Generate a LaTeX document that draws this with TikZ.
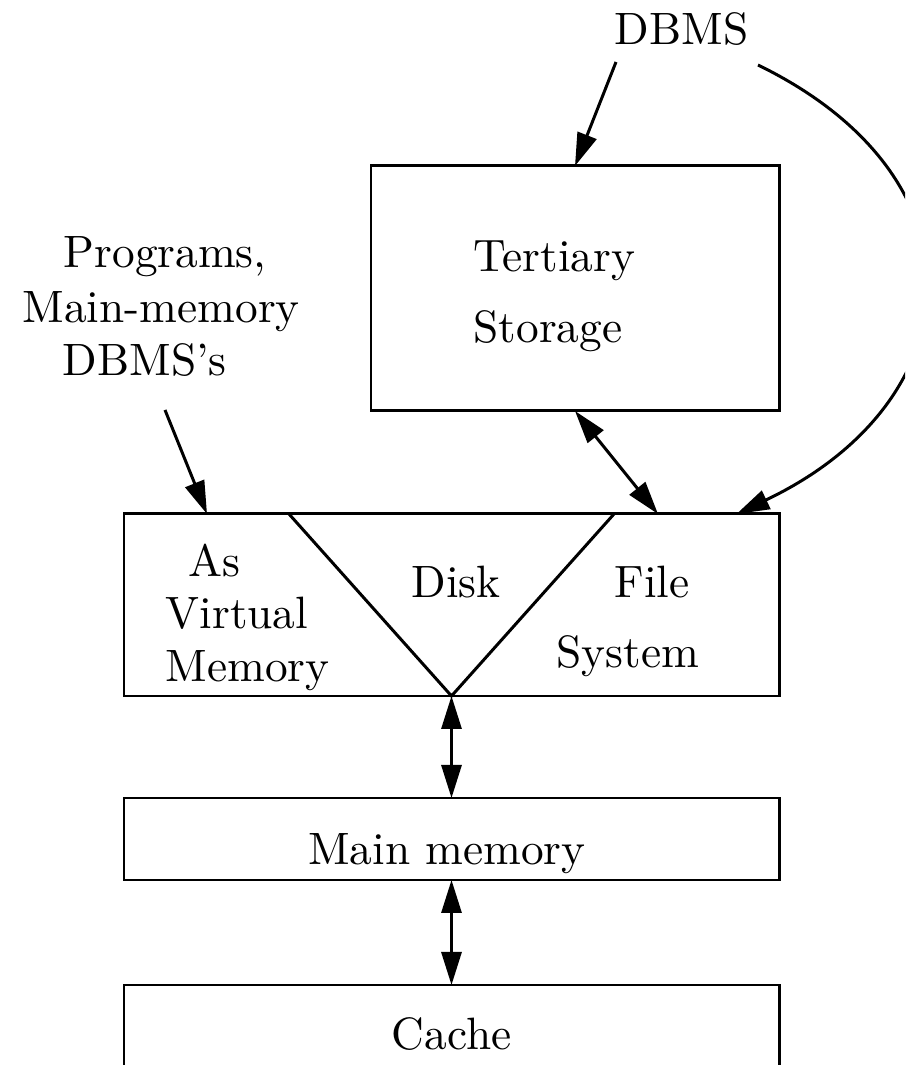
\documentclass[tikz,border=0pt]{standalone}
\usepackage{fontspec}
\newfontfamily\lmzehn{lmroman10-regular.otf}[Ligatures=TeX]
\usetikzlibrary{arrows.meta}
\tikzset{
  kasten/.style={draw,line width=0.85pt,inner sep=0pt,outer sep=0pt},
  pfeil/.style={line width=0.85pt,-{Triangle[length=3.3mm,width=2mm]}},
  doppelpfeil/.style={line width=0.85pt,{Triangle[length=3.3mm,width=2mm]}-{Triangle[length=3.3mm,width=2mm]}},
  schrift/.style={inner sep=0pt,font=\lmzehn\fontsize{12.9pt}{15pt}\selectfont}
}
\begin{document}
\begin{tikzpicture}
\useasboundingbox (0,0) rectangle (9.05,10.65);
\clip (0,0) rectangle (9.05,10.65);
% Koordinaten
\coordinate (dbmslinks) at (6.16,10.03);
\coordinate (dbmsrechts) at (7.58,10.00);
\coordinate (programme) at (1.65,6.55);

% Kaesten
\node[kasten,minimum width=4.08cm,minimum height=2.45cm] (tertiary) at (5.75,7.765) {};
\node[kasten,minimum width=6.55cm,minimum height=1.82cm] (disk) at (4.515,4.60) {};
\node[kasten,minimum width=6.55cm,minimum height=0.82cm] (mainmem) at (4.515,2.26) {};
\node[kasten,minimum width=6.55cm,minimum height=1.30cm] (cache) at (4.515,0.15) {};
\draw[line width=0.85pt] ([xshift=-1.625cm]disk.north) -- (disk.south) -- ([xshift=1.625cm]disk.north);

% Beschriftung
\node[schrift,anchor=base west] (dbms) at (6.14,10.20) {DBMS};
\node[schrift,anchor=base west] (progone) at (0.63,7.97) {Programs,};
\node[schrift,anchor=base west] (progtwo) at (0.22,7.42) {Main-memory};
\node[schrift,anchor=base west] (progthree) at (0.62,6.89) {DBMS's};
\node[schrift,anchor=base west] (tertone) at (4.73,7.93) {Tertiary};
\node[schrift,anchor=base west] (terttwo) at (4.73,7.22) {Storage};
\node[schrift,anchor=base west] (virtone) at (1.88,4.88) {As};
\node[schrift,anchor=base west] (virttwo) at (1.65,4.36) {Virtual};
\node[schrift,anchor=base west] (virtthree) at (1.65,3.83) {Memory};
\node[schrift,anchor=base west] (disktext) at (4.11,4.67) {Disk};
\node[schrift,anchor=base west] (fileone) at (6.14,4.67) {File};
\node[schrift,anchor=base west] (filetwo) at (5.56,3.97) {System};
\node[schrift,anchor=base] (mainmemtext) at (4.47,2.00) {Main memory};
\node[schrift,anchor=base] (cachetext) at (4.515,0.15) {Cache};

% Pfeile
\draw[pfeil] (dbmslinks) -- (tertiary.north);
\draw[pfeil] (dbmsrechts) .. controls (9.92,8.86) and (9.74,6.64) .. ([xshift=2.85cm]disk.north);
\draw[pfeil] (programme) -- ([xshift=-2.445cm]disk.north);
\draw[doppelpfeil] (tertiary.south) -- ([xshift=2.065cm]disk.north);
\draw[doppelpfeil] (disk.south) -- (mainmem.north);
\draw[doppelpfeil] (mainmem.south) -- (cache.north);
\end{tikzpicture}
\end{document}
